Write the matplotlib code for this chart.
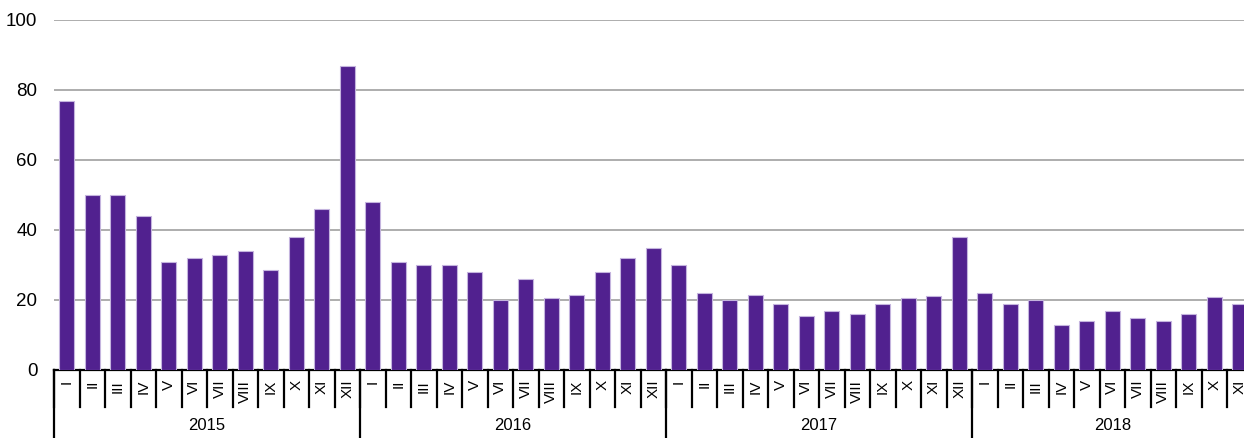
import matplotlib
matplotlib.use("Agg")
import matplotlib.pyplot as plt

plt.rcParams['font.family'] = ['Liberation Sans', 'DejaVu Sans']

years = ["2015", "2016", "2017", "2018"]
months_per_year = [12, 12, 12, 11]
roman = ["I", "II", "III", "IV", "V", "VI", "VII", "VIII", "IX", "X", "XI", "XII"]

values_2015 = [77, 50, 50, 44, 31, 32, 33, 34, 28.5, 38, 46, 87]
values_2016 = [48, 31, 30, 30, 28, 20, 26, 20.5, 21.5, 28, 32, 35]
values_2017 = [30, 22, 20, 21.5, 18.8, 15.3, 17, 16, 19, 20.7, 21.2, 38]
values_2018 = [22, 19, 20, 13, 14, 17, 15, 14, 16, 21, 19]

values = values_2015 + values_2016 + values_2017 + values_2018
labels = []
for n in months_per_year:
    labels += roman[:n]

W, H = 1244, 438
fig = plt.figure(figsize=(W / 100, H / 100), dpi=100)
left_px, base_px, top_px = 54, 370, 20
slot_px = 25.5
n = len(values)
ax = fig.add_axes([left_px / W, (H - base_px) / H, n * slot_px / W, (base_px - top_px) / H])

x = list(range(n))
ax.bar(x, values, width=0.6, color='#51218f', edgecolor='#c4b4de', linewidth=0.8, zorder=3)

ax.set_xlim(-0.5, n - 0.5)
ax.set_ylim(0, 100)
ax.set_yticks([0, 20, 40, 60, 80, 100])
ax.tick_params(axis='y', length=0, pad=12, labelsize=13.5, colors='black')
ax.yaxis.grid(True, color='#a0a0a0', linewidth=1.2, zorder=0)
ax.set_axisbelow(True)
for s in ['left', 'right', 'top']:
    ax.spines[s].set_visible(False)
ax.spines['bottom'].set_linewidth(1.6)
ax.spines['bottom'].set_color('black')
ax.set_xticks([])

trans = ax.get_xaxis_transform()
# month labels
for i, lab in enumerate(labels):
    ax.text(i, -0.028, lab, rotation=90, ha='center', va='top', fontsize=11,
            transform=trans, clip_on=False)
# month separators
for i in range(n + 1):
    ax.plot([i - 0.5, i - 0.5], [0, -0.106], color='black', lw=1.6,
            transform=trans, clip_on=False)
# year separators and labels
start = 0
for yr, cnt in zip(years, months_per_year):
    ax.plot([start - 0.5, start - 0.5], [0, -0.22], color='black', lw=1.6,
            transform=trans, clip_on=False)
    ax.text(start - 0.5 + cnt / 2, -0.16, yr, ha='center', va='center',
            fontsize=12, transform=trans, clip_on=False)
    start += cnt

fig.savefig("out.png", dpi=100)
